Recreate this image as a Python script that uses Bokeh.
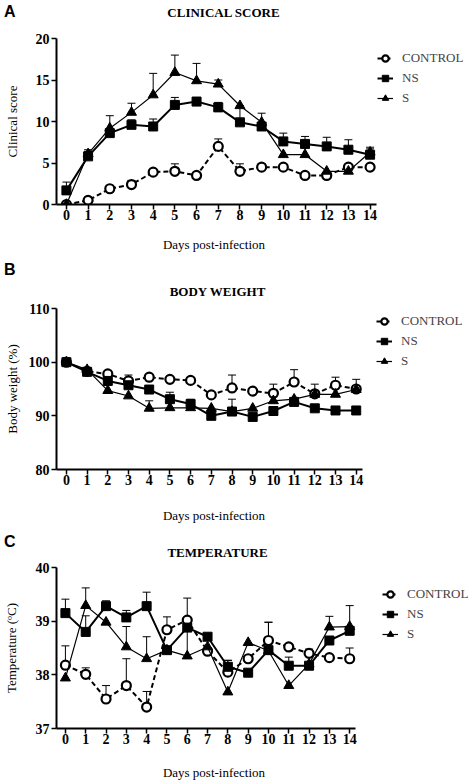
import math
from bokeh.plotting import figure
from bokeh.models import (Range1d, FixedTicker, Legend, LegendItem, Div,
                          Whisker, TeeHead, ColumnDataSource)
from bokeh.layouts import column
from bokeh.embed import file_html
from bokeh.resources import INLINE

# ---------------- data ----------------
days = list(range(15))
day_ticks = list(range(15))

series_names = ["CONTROL", "NS", "S"]

# A: clinical score
cs_control = [0, 0.5, 1.9, 2.4, 3.9, 4.0, 3.5, 7.0, 4.0, 4.5, 4.5, 3.5, 3.5, 4.5, 4.5]
cs_control_err = [0, 0.4, 0, 0.5, 0, 0.9, 0, 0.9, 0.9, 0.4, 0.3, 0, 0, 0, 0]
cs_ns = [1.7, 5.8, 8.6, 9.6, 9.4, 12.0, 12.4, 11.7, 9.9, 9.4, 7.6, 7.3, 7.0, 6.6, 6.0]
cs_ns_err = [1.0, 0.8, 0, 0.6, 0.9, 0.9, 0.5, 0.6, 2.0, 0, 1.0, 0.9, 1.1, 1.2, 0.9]
cs_s = [0, 6.1, 9.2, 11.1, 13.2, 15.9, 14.9, 14.5, 11.9, 9.9, 6.0, 6.0, 4.0, 4.0, 6.3]
cs_s_err = [0, 0.3, 1.5, 1.1, 2.6, 2.1, 2.1, 0.5, 0, 1.1, 0, 0, 0, 0, 0.4]
cs_yticks = [0, 5, 10, 15, 20]

# B: body weight
bw_control = [100, 98.3, 97.8, 96.5, 97.2, 96.8, 96.6, 93.9, 95.2, 94.6, 94.2, 96.3, 94.1, 95.7, 95.0]
bw_control_err = [0, 0, 0, 1.1, 0, 0, 0, 0, 2.4, 0, 1.7, 2.3, 1.8, 1.5, 1.8]
bw_ns = [100, 98.2, 96.5, 95.7, 94.9, 93.1, 92.2, 90.0, 90.8, 89.8, 90.9, 92.6, 91.4, 91.0, 91.0]
bw_ns_err = [0, 0, 0, 1.0, 0, 1.3, 0.9, 0, 2.3, 0, 0, 0.5, 0, 0, 0]
bw_s = [100, 98.6, 94.7, 93.7, 91.4, 91.5, 91.5, 91.4, 90.8, 91.4, 92.8, 93.1, 94.0, 94.0, 94.9]
bw_s_err = [0, 0, 0, 0, 1.4, 0, 0, 0, 0, 0, 0, 0, 0, 0, 0]
bw_yticks = [80, 90, 100, 110]

# C: temperature
t_control = [38.18, 38.01, 37.55, 37.80, 37.40, 38.84, 39.02, 38.44, 38.05, 38.30, 38.64, 38.52, 38.40, 38.32, 38.30]
t_control_err = [0.36, 0.12, 0.25, 0.50, 0.29, 0.24, 0, 0, 0.22, 0, 0.34, 0, 0.08, 0, 0.20]
t_ns = [39.15, 38.80, 39.28, 39.07, 39.28, 38.46, 38.88, 38.71, 38.15, 38.04, 38.46, 38.17, 38.17, 38.64, 38.82]
t_ns_err = [0.26, 0.30, 0.10, 0.13, 0.26, 0, 0, 0, 0.12, 0, 0.52, 0.16, 0, 0, 0.47]
t_s = [37.94, 39.29, 38.98, 38.52, 38.30, 38.46, 38.35, 38.52, 37.68, 38.60, 38.45, 37.80, 38.20, 38.89, 38.90]
t_s_err = [0, 0.33, 0, 0.38, 0.41, 0, 1.08, 0, 0, 0, 0, 0, 0, 0.20, 0]
t_yticks = [37, 38, 39, 40]

XLABEL = "Days post-infection"
SERIF = "Liberation Serif"
SANS = "Liberation Sans"
W = 472
FL = 52


def span(text, top, font, size, bold=False, left=None, cx=None):
    if cx is not None:
        pos = f"left:{cx - 150}px;width:300px;text-align:center;"
    else:
        pos = f"left:{left}px;"
    weight = "bold" if bold else "normal"
    return (f'<div style="position:absolute;top:{top}px;{pos}'
            f"font-family:'{font}';font-size:{size}px;font-weight:{weight};"
            f'line-height:1;white-space:nowrap;color:#000;">{text}</div>')


def text_band(h, parts):
    html = (f'<div style="position:relative;width:{W}px;height:{h}px;'
            f'overflow:visible;">' + "".join(parts) + "</div>")
    return Div(text=html, width=W, height=h, margin=0)


def make_panel(ylabel, yr, yticks, x0, dx, xend, h, ft, fb, data, ylab_sd, leg):
    frame_w = W - FL
    p = figure(width=W, height=h, output_backend="svg", toolbar_location=None,
               x_range=Range1d(x0, x0 + frame_w / dx), y_range=Range1d(*yr),
               min_border_left=FL, min_border_right=0,
               min_border_top=ft, min_border_bottom=h - fb)
    p.outline_line_color = None
    p.grid.visible = False
    for ax, ticks in ((p.xaxis[0], day_ticks), (p.yaxis[0], yticks)):
        ax.ticker = FixedTicker(ticks=ticks)
        ax.minor_tick_line_color = None
        ax.axis_line_width = 2
        ax.axis_line_color = "black"
        ax.major_tick_line_width = 1.5
        ax.major_tick_line_color = "black"
        ax.major_tick_out = 5
        ax.major_tick_in = 0
        ax.major_label_text_font = SERIF
        ax.major_label_text_font_style = "bold"
        ax.major_label_text_font_size = "14px"
        ax.major_label_text_color = "black"
        ax.axis_label_text_font = SERIF
        ax.axis_label_text_font_style = "normal"
        ax.axis_label_text_font_size = "13px"
        ax.axis_label_text_color = "black"
    p.xaxis[0].major_label_standoff = 0
    p.yaxis[0].major_label_standoff = 2
    p.xaxis[0].bounds = (x0, xend)
    p.yaxis[0].axis_label = ylabel
    p.yaxis[0].axis_label_standoff = ylab_sd

    styles = [
        dict(marker="circle", size=9, fill="white", lw=2.2, dash="5 3", linew=2.0),
        dict(marker="square", size=9, fill="black", lw=1, dash="solid", linew=2.0),
        dict(marker="triangle", size=10, fill="black", lw=1, dash="solid", linew=1.2),
    ]
    items = []
    for name, (vals, errs), st in zip(series_names, data, styles):
        lr = p.line(days, vals, line_color="black", line_width=st["linew"],
                    line_dash=st["dash"])
        bx = [d for d, e in zip(days, errs) if e > 0]
        lo = [v for v, e in zip(vals, errs) if e > 0]
        up = [v + e for v, e in zip(vals, errs) if e > 0]
        src = ColumnDataSource(dict(base=bx, lower=lo, upper=up))
        wk = Whisker(source=src, base="base", lower="lower", upper="upper",
                     dimension="height", line_color="black", line_width=1,
                     upper_head=TeeHead(size=8, line_width=1, line_color="black"),
                     lower_head=None, level="underlay")
        p.add_layout(wk)
        sr = p.scatter(days, vals, marker=st["marker"], size=st["size"],
                       fill_color=st["fill"], line_color="black",
                       line_width=st["lw"])
        items.append(LegendItem(label=name, renderers=[lr, sr]))

    legend = Legend(items=items, location=leg, orientation="vertical",
                    glyph_width=16, glyph_height=20, label_height=20,
                    spacing=0, padding=0, margin=0, border_line_color=None,
                    background_fill_alpha=0, label_text_font=SERIF,
                    label_text_font_size="13px", label_standoff=9)
    p.add_layout(legend, "center")
    return p


band0 = text_band(30, [span("A", 4, SANS, 16, True, left=4),
                       span("CLINICAL SCORE", 6, SERIF, 13, True, cx=223.5)])
pA = make_panel("Clinical score", (0, 20), cs_yticks, -0.457, 21.9, 14.29,
                200, 8, 174,
                [(cs_control, cs_control_err), (cs_ns, cs_ns_err), (cs_s, cs_s_err)],
                13, (321, 96))

band1 = text_band(70, [span(XLABEL, 8, SERIF, 13, cx=214),
                       span("B", 32, SANS, 16, True, left=4),
                       span("BODY WEIGHT", 55, SERIF, 13, True, cx=217.5)])
pB = make_panel("Body weight (%)", (80, 110), bw_yticks, -0.478, 20.9, 14.31,
                195, 8, 169,
                [(bw_control, bw_control_err), (bw_ns, bw_ns_err), (bw_s, bw_s_err)],
                6, (320, 98))

band2 = text_band(65, [span(XLABEL, 14, SERIF, 13, cx=214),
                       span("C", 39, SANS, 16, True, left=4),
                       span("TEMPERATURE", 51, SERIF, 13, True, cx=217.5)])
pC = make_panel("Temperature (ºC)", (37, 40), t_yticks, -0.439, 20.5, 14.29,
                194, 7, 168,
                [(t_control, t_control_err), (t_ns, t_ns_err), (t_s, t_s_err)],
                14, (326, 84))

band3 = text_band(28, [span(XLABEL, 12, SERIF, 13, cx=214)])

layout = column(band0, pA, band1, pB, band2, pC, band3, spacing=0)

with open("out.html", "w") as f:
    f.write(file_html(layout, INLINE))
